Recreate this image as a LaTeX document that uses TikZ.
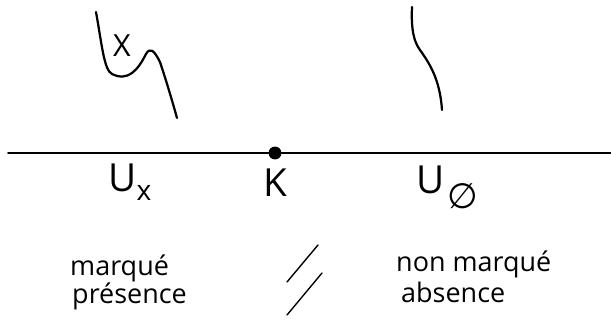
\documentclass[tikz,border=0pt]{standalone}
\usepackage{fontspec}
\setmainfont{Open Sans}
\newfontfamily\symfont{DejaVu Sans}
\usetikzlibrary{positioning}

\begin{document}
\begin{tikzpicture}[x=0.03cm, y=-0.03cm, line cap=round, line join=round]
    % 样式
    \tikzset{
      hand/.style={black, line width=1.9pt},
      label/.style={inner sep=0pt, font=\fontsize{23}{26}\selectfont},
      big/.style={inner sep=0pt, font=\fontsize{33}{36}\selectfont},
      small/.style={inner sep=0pt, font=\fontsize{26}{28}\selectfont}
    }
    \useasboundingbox (0,0) rectangle (611,321);

    % --- 轴与点 K ---
    \draw[line width=1.5pt] (8,153) -- (611,153);
    \node[circle, fill=black, inner sep=0pt, minimum size=11pt] (K) at (275,153) {};
    \node[big, below=8pt of K] (Klab) {K};

    % --- 上方曲线 ---
    \draw[hand] (96,12) .. controls (102,45) and (104,70) .. (112,74)
                 .. controls (128,82) and (138,70) .. (146,54)
                 .. controls (150,47) and (154,50) .. (160,62)
                 .. controls (166,80) and (172,100) .. (177,118);
    \node[small] (x) at (122,46) {X};
    \draw[hand] (412,7) .. controls (411,30) and (414,42) .. (420,50)
                 .. controls (430,64) and (440,80) .. (442,110);

    % --- 标签 ---
    \node[big] (ux) at (130,182) {U\raisebox{-0.45ex}{\fontsize{24}{26}\selectfont x}};
    \node[big] (u) at (431,180) {U};
    \node[inner sep=0pt, font=\symfont\fontsize{30}{32}\selectfont] (empty) at (463,196) {∅};

    \node[label, anchor=west] (marque) at (70,268) {marqué};
    \node[label, anchor=west] (presence) at (72,296) {présence};
    \node[label, anchor=west] (nonmarque) at (396,264) {non marqué};
    \node[label, anchor=west] (absence) at (401,292) {absence};

    % --- 双斜线 ---
    \draw[line width=1.2pt] (287,282) -- (318,245);
    \draw[line width=1.2pt] (287,315) -- (322,273);
\end{tikzpicture}
\end{document}
